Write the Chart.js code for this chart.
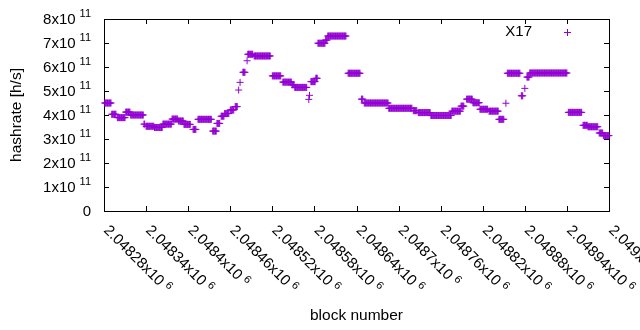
<!DOCTYPE html>
<html>
<head>
<meta charset="utf-8">
<script src="https://cdn.jsdelivr.net/npm/chart.js@4"></script>
<style>
  html, body { margin: 0; padding: 0; background: #fff; }
</style>
</head>
<body>
<canvas id="chart" width="640" height="330"></canvas>
<script>
const seriesName = 'X17';
const firstBlock = 2048280;
const lastBlock = 2049000;

// runs of equal hashrate: block offsets from firstBlock, value in 1e11 h/s
const runStart = [1, 11, 19, 31, 38, 57, 60, 72, 84, 97, 106, 114, 127, 134, 155, 161, 167, 172, 180, 187,
  192, 194, 198, 204, 205, 214, 240, 255, 268, 272, 292, 293, 295, 302, 305, 316, 319, 348, 367, 371,
  406, 441, 448, 466, 496, 509, 517, 526, 536, 549, 563, 573, 575, 595, 600, 603, 607, 662, 683, 690,
  706, 712];
const runEnd = [10, 17, 30, 37, 56, 58, 71, 83, 96, 105, 113, 123, 131, 153, 160, 165, 171, 178, 185, 190,
  192, 194, 201, 204, 212, 237, 252, 267, 271, 289, 292, 293, 301, 304, 315, 318, 345, 365, 369, 405,
  439, 446, 465, 495, 508, 513, 525, 535, 547, 562, 570, 573, 593, 597, 600, 606, 660, 681, 689, 704,
  711, 720];
const runValue = [4.50, 4.03, 3.89, 4.12, 4.00, 3.62, 3.53, 3.48, 3.62, 3.83, 3.75, 3.61, 3.40, 3.82, 3.33, 3.65, 3.95, 4.06, 4.21, 4.35,
  5.04, 5.36, 5.78, 6.26, 6.53, 6.46, 5.63, 5.37, 5.26, 5.15, 4.65, 4.82, 5.39, 5.53, 6.99, 7.12, 7.29, 5.74, 4.66, 4.50,
  4.28, 4.18, 4.10, 3.98, 4.16, 4.37, 4.66, 4.51, 4.24, 4.16, 3.82, 4.49, 5.74, 4.80, 5.11, 5.58, 5.75, 4.11, 3.57, 3.51,
  3.25, 3.14];

const xTicks = [2048280, 2048340, 2048400, 2048460, 2048520, 2048580, 2048640, 2048700, 2048760, 2048820, 2048880, 2048940, 2049000];
const xTickLabels = ['2.04828x10', '2.04834x10', '2.0484x10', '2.04846x10', '2.04852x10', '2.04858x10', '2.04864x10',
  '2.0487x10', '2.04876x10', '2.04882x10', '2.04888x10', '2.04894x10', '2.049x10'];
const xTickExp = '6';
const yTicks = [0, 1e11, 2e11, 3e11, 4e11, 5e11, 6e11, 7e11, 8e11];
const yTickLabels = ['0', '1x10', '2x10', '3x10', '4x10', '5x10', '6x10', '7x10', '8x10'];
const yTickExp = ['', '11', '11', '11', '11', '11', '11', '11', '11'];

const purple = '#9400d3';
const font = '"Liberation Sans", Arial, sans-serif';

const points = [];
runStart.forEach((s, i) => {
    for (let b = s; b <= runEnd[i]; b++) {
        points.push({ x: firstBlock + b, y: runValue[i] * 1e11 });
    }
});

function cross(ctx, x, y, r) {
    ctx.beginPath();
    ctx.moveTo(x - r, y); ctx.lineTo(x + r, y);
    ctx.moveTo(x, y - r); ctx.lineTo(x, y + r);
    ctx.stroke();
}

const gnuplotFrame = {
    id: 'gnuplotFrame',
    beforeDatasetsDraw(chart) {
        const { ctx, chartArea: a, scales: { x, y } } = chart;
        ctx.save();
        ctx.strokeStyle = '#000';
        ctx.lineWidth = 1;
        ctx.strokeRect(Math.round(a.left) + 0.5, Math.round(a.top) + 0.5,
            Math.round(a.right - a.left), Math.round(a.bottom - a.top));
        ctx.beginPath();
        yTicks.forEach(v => {
            const py = Math.round(y.getPixelForValue(v)) + 0.5;
            ctx.moveTo(a.left, py); ctx.lineTo(a.left + 5, py);
            ctx.moveTo(a.right, py); ctx.lineTo(a.right - 5, py);
        });
        xTicks.forEach(v => {
            const px = Math.round(x.getPixelForValue(v)) + 0.5;
            ctx.moveTo(px, a.bottom); ctx.lineTo(px, a.bottom - 5);
            ctx.moveTo(px, a.top); ctx.lineTo(px, a.top + 5);
        });
        ctx.stroke();
        ctx.restore();
    },
    afterDraw(chart) {
        const { ctx, chartArea: a, scales: { x, y } } = chart;
        ctx.save();
        ctx.fillStyle = '#000';

        // y tick labels, right aligned with superscript exponent
        yTicks.forEach((v, i) => {
            const py = y.getPixelForValue(v);
            const right = 91;
            ctx.textBaseline = 'middle';
            ctx.textAlign = 'right';
            if (yTickExp[i]) {
                ctx.font = '11px ' + font;
                ctx.fillText(yTickExp[i], right, py - 5);
                const w = ctx.measureText(yTickExp[i]).width;
                ctx.font = '15px ' + font;
                ctx.fillText(yTickLabels[i], right - w - 4, py + 1);
            } else {
                ctx.font = '15px ' + font;
                ctx.fillText(yTickLabels[i], right, py + 1);
            }
        });

        // x tick labels rotated 45 degrees clockwise
        xTicks.forEach((v, i) => {
            const px = x.getPixelForValue(v);
            ctx.save();
            ctx.translate(px - 1, 231);
            ctx.rotate(Math.PI / 4);
            ctx.textAlign = 'left';
            ctx.textBaseline = 'alphabetic';
            ctx.font = '15px ' + font;
            ctx.fillText(xTickLabels[i], 0, 0);
            const w = ctx.measureText(xTickLabels[i]).width;
            ctx.font = '11px ' + font;
            ctx.fillText(xTickExp, w + 4, -5);
            ctx.restore();
        });

        // axis titles
        ctx.font = '15.5px ' + font;
        ctx.textAlign = 'center';
        ctx.textBaseline = 'middle';
        ctx.fillText('block number', (a.left + a.right) / 2, 316);
        ctx.save();
        ctx.translate(17, (a.top + a.bottom) / 2);
        ctx.rotate(-Math.PI / 2);
        ctx.fillText('hashrate [h/s]', 0, 0);
        ctx.restore();

        // key
        ctx.font = '15px ' + font;
        ctx.textAlign = 'right';
        ctx.fillText(seriesName, 532, 32);
        ctx.strokeStyle = purple;
        ctx.lineWidth = 1;
        cross(ctx, 567.5, 32.5, 3.5);
        ctx.restore();
    }
};

new Chart(document.getElementById('chart'), {
    type: 'scatter',
    data: {
        datasets: [{
            label: seriesName,
            data: points,
            pointStyle: 'cross',
            pointRadius: 3.5,
            pointBorderWidth: 1,
            borderColor: purple,
            backgroundColor: purple,
            showLine: false,
            clip: false
        }]
    },
    options: {
        responsive: false,
        animation: false,
        events: [],
        layout: { padding: { left: 104, right: 31, top: 19, bottom: 119 } },
        plugins: { legend: { display: false }, tooltip: { enabled: false } },
        scales: {
            x: { type: 'linear', min: firstBlock, max: lastBlock, display: false },
            y: { min: 0, max: 8e11, display: false }
        }
    },
    plugins: [gnuplotFrame]
});
</script>
</body>
</html>
